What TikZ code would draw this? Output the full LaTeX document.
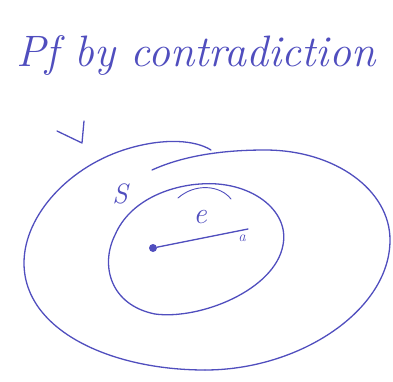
\documentclass[tikz,border=0pt]{standalone}
\usetikzlibrary{calc}
\definecolor{ink}{RGB}{80,78,190}
\tikzset{
  pen/.style={draw=ink, line width=1.3pt, line cap=round, line join=round},
  hand/.style={text=ink, font=\itshape, inner sep=0pt, anchor=center},
}
\begin{document}
\begin{tikzpicture}[x=1pt,y=-1pt]
\useasboundingbox (0,0) rectangle (393,381);
% title
\node[hand, font=\fontsize{44}{44}\selectfont\itshape] (title) at (196,55) {Pf by contradiction};
% check mark
\draw[pen] (57,131) -- (82,143) -- (84,121);
% outer region S (two strokes)
\draw[pen] (211,150) .. controls (195,140) and (165,138) .. (130,148)
  .. controls (70,165) and (24,215) .. (24,263)
  .. controls (24,330) and (110,370) .. (205,370);
\draw[pen] (152,170) .. controls (185,155) and (225,150) .. (265,150)
  .. controls (335,150) and (390,190) .. (390,240)
  .. controls (390,310) and (300,370) .. (205,370);
% inner ball
\draw[pen] (200,184) .. controls (250,180) and (290,210) .. (283,245)
  .. controls (275,290) and (200,320) .. (155,314)
  .. controls (110,305) and (100,265) .. (115,235)
  .. controls (130,200) and (170,186) .. (200,184);
\draw[pen, line width=0.9pt] (178,198) .. controls (195,183) and (220,185) .. (231,199);
% centre point and radius
\node[circle, fill=ink, inner sep=0pt, minimum size=8pt] (p) at (153,248) {};
\coordinate (q) at (248,229);
\draw[pen] (p) -- (q);
% labels
\node[hand, font=\fontsize{28}{28}\selectfont\itshape] (S) at (120,194) {S};
\node[hand, font=\fontsize{30}{30}\selectfont\itshape] (e) at (200,217) {e};
\node[hand, font=\fontsize{15}{15}\selectfont\itshape] (a) at (242,238) {a};
\end{tikzpicture}
\end{document}
